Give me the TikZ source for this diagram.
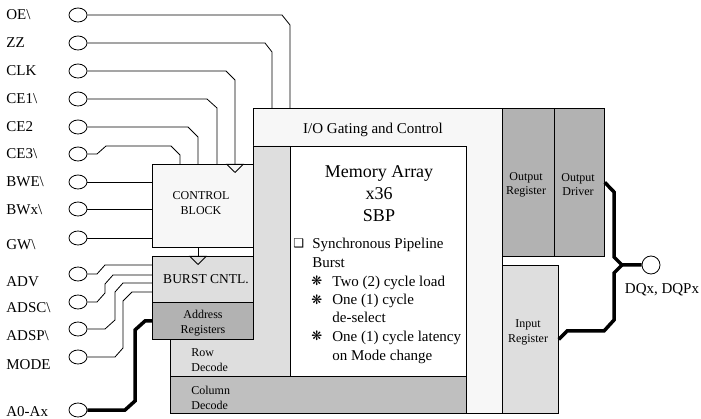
\documentclass[tikz,border=0pt]{standalone}
\usepackage{fontspec}
\setmainfont{Liberation Serif}
\newfontfamily\dingfont{DejaVu Sans}
\usetikzlibrary{shapes.geometric,arrows.meta}
\definecolor{ioFill}{gray}{0.97}
\definecolor{lightFill}{gray}{0.87}
\definecolor{midFill}{gray}{0.75}
\definecolor{darkFill}{gray}{0.70}
\begin{document}
\begin{tikzpicture}[x=1pt,y=-1pt,line width=0.8pt,
		pin/.style={draw,ellipse,minimum width=18pt,minimum height=14pt,inner sep=0pt},
		sig/.style={anchor=base west,inner sep=0pt,font=\fontsize{15}{18}\selectfont},
		blk/.style={draw,rectangle,anchor=north west,inner sep=0pt},
		txt/.style={align=center,inner sep=0pt,font=\fontsize{12}{15}\selectfont},
		item/.style={anchor=base west,inner sep=0pt,font=\fontsize{15}{18}\selectfont},
		dot/.style={anchor=base west,inner sep=0pt,font=\dingfont\fontsize{13}{15}\selectfont},
		bus/.style={line width=3.5pt},
		tip/.style={-{Triangle[open,length=9pt,width=18pt]}}]
		\useasboundingbox (0,0) rectangle (701,419);

		% big blocks
		\node (io)     [blk,fill=ioFill,minimum width=249pt,minimum height=305pt] at (253,108) {};
		\node (iotxt)  [inner sep=0pt,font=\fontsize{15}{18}\selectfont] at (373,130) {I/O Gating and Control};
		\draw [fill=lightFill] (253,146) -- (290,146) -- (290,376) -- (170,376) -- (170,339) -- (253,339) -- cycle;
		\node (rowtxt) [txt,anchor=west,align=left] at (191,360.5) {Row\\Decode};
		\node (mem)    [blk,fill=white,minimum width=176pt,minimum height=230pt] at (290,146) {};
		\node (col)    [blk,fill=midFill,minimum width=296pt,minimum height=37pt] at (170,376) {};
		\node (coltxt) [txt,anchor=west,align=left] at (191,398) {Column\\Decode};
		\node (outreg) [blk,fill=darkFill,minimum width=52pt,minimum height=148pt] at (502,108) {};
		\node [txt,font=\fontsize{12}{14}\selectfont] at (526,185) {Output\\Register};
		\node (drv)    [blk,fill=darkFill,minimum width=50pt,minimum height=148pt] at (554,108) {};
		\node [txt,font=\fontsize{12}{14}\selectfont] at (578,185) {Output\\Driver};
		\node (inreg)  [blk,fill=lightFill,minimum width=56pt,minimum height=148pt] at (502,265) {};
		\node [txt] at (528,332.5) {Input\\Register};

		% memory array text
		\node (memtxt) [align=center,inner sep=0pt,font=\fontsize{18}{22}\selectfont] at (379,194) {Memory Array\\x36\\SBP};
		\node [dot,font=\dingfont\fontsize{12}{14}\selectfont] at (293,248) {❑};
		\node [item] at (312,249) {Synchronous Pipeline};
		\node [item] at (312,267.5) {Burst};
		\node [dot] at (311,286) {❋};
		\node [item] at (332,286.5) {Two (2) cycle load};
		\node [dot] at (311,305) {❋};
		\node [item] at (332,305) {One (1) cycle};
		\node [item] at (332,323) {de-select};
		\node [dot] at (311,341) {❋};
		\node [item] at (332,341.5) {One (1) cycle latency};
		\node [item] at (332,360) {on Mode change};

		% control side
		\node (ctrl)  [blk,fill=ioFill,minimum width=101pt,minimum height=83pt] at (152,164) {};
		\node [txt] at (201,203.5) {CONTROL\\BLOCK};
		\node (burst) [blk,fill=lightFill,minimum width=101pt,minimum height=46pt] at (152,256) {};
		\node [txt,font=\fontsize{13.5}{15}\selectfont] at (206,279) {BURST CNTL.};
		\node (addr)  [blk,fill=darkFill,minimum width=101pt,minimum height=37pt] at (152,302) {};
		\node [txt] at (203,323.5) {Address\\Registers};
		\coordinate (clkin) at (235,173);
		\coordinate (brstin) at (198,265);

		% pins
		\node (pOE)   [pin] at (78,15) {};
		\node [sig] at (6,20) {OE\textbackslash};
		\node (pZZ)   [pin] at (78,43) {};
		\node [sig] at (6,48) {ZZ};
		\node (pCLK)  [pin] at (78,71) {};
		\node [sig] at (6,76) {CLK};
		\node (pCE1)  [pin] at (78,99) {};
		\node [sig] at (6,104) {CE1\textbackslash};
		\node (pCE2)  [pin] at (78,127) {};
		\node [sig] at (6,132) {CE2};
		\node (pCE3)  [pin] at (78,154) {};
		\node [sig] at (6,159) {CE3\textbackslash};
		\node (pBWE)  [pin] at (78,182) {};
		\node [sig] at (6,187) {BWE\textbackslash};
		\node (pBWx)  [pin] at (78,209) {};
		\node [sig] at (6,215) {BWx\textbackslash};
		\node (pGW)   [pin] at (78,238) {};
		\node [sig] at (6,250) {GW\textbackslash};
		\node (pADV)  [pin] at (78,274) {};
		\node [sig] at (6,287) {ADV};
		\node (pADSC) [pin] at (78,302) {};
		\node [sig] at (6,313) {ADSC\textbackslash};
		\node (pADSP) [pin] at (78,329) {};
		\node [sig] at (6,341) {ADSP\textbackslash};
		\node (pMODE) [pin] at (78,357) {};
		\node [sig] at (6,369) {MODE};
		\node (pA)    [pin] at (78,410) {};
		\node [sig] at (6,416) {A0-Ax};
		\node (pDQ)   [draw,circle,minimum size=18pt,inner sep=0pt] at (651,265) {};
		\node [inner sep=0pt,font=\fontsize{15}{18}\selectfont] at (662,290) {DQx, DQPx};
		\coordinate (dqj) at (622,265);

		% wires
		\draw (pOE.east) -- (282,15) -- (290,25) -- (290,25 |- io.north);
		\draw (pZZ.east) -- (265,43) -- (272,52) -- (272,52 |- io.north);
		\draw [tip] (pCLK.east) -- (226,71) -- (235,80) -- (clkin);
		\draw (pCE1.east) -- (207,99) -- (217,108) -- (217,108 |- ctrl.north);
		\draw (pCE2.east) -- (188,127) -- (198,137) -- (198,137 |- ctrl.north);
		\draw (pCE3.east) -- (97,154) -- (106,146) -- (171,146) -- (180,155) -- (180,155 |- ctrl.north);
		\draw (pBWE.east) -- (pBWE.east -| ctrl.west);
		\draw (pBWx.east) -- (pBWx.east -| ctrl.west);
		\draw (pGW.east) -- (pGW.east -| ctrl.west);
		\draw [tip] (brstin |- ctrl.south) -- (brstin);
		\draw (pADV.east) -- (97,274) -- (105,265) -- (105,265 -| burst.west);
		\draw (pADSC.east) -- (97,302) -- (105,293) -- (105,284) -- (113,275) -- (113,275 -| burst.west);
		\draw (pADSP.east) -- (105,329) -- (115,320) -- (115,292) -- (123,283) -- (123,283 -| burst.west);
		\draw (pMODE.east) -- (115,357) -- (123,348) -- (123,301) -- (132,292) -- (132,292 -| burst.west);
		\draw [bus] (pA.east) -- (125,410) -- (135,401) -- (135,330) -- (145,321) -- (145,321 -| addr.west);
		\draw [bus] (drv.east) -- (614,192) -- (614,257) -- (dqj) -- (pDQ.west);
		\draw [bus] (dqj) -- (614,273) -- (614,320) -- (604,331) -- (567,331) -- (inreg.east);
	\end{tikzpicture}
\end{document}
